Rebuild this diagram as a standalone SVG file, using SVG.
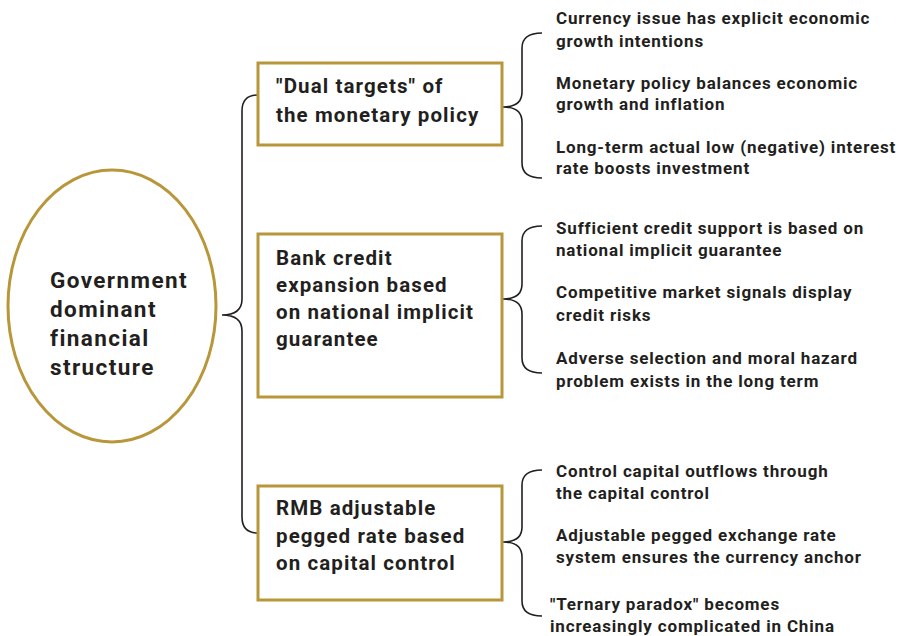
<svg xmlns="http://www.w3.org/2000/svg" width="900" height="636" viewBox="0 0 900 636">
<style>
.node{fill:#fff;stroke:#b8973a;stroke-width:3}
.brace{fill:none;stroke:#231f20;stroke-width:1.6}
text{font-family:Roboto,"Liberation Sans",sans-serif;fill:#231f20;font-weight:700}
.big{font-size:22.5px;letter-spacing:1.4px}
.mid{font-size:20.5px;letter-spacing:1.1px}
.sm{font-size:17px;letter-spacing:0.83px}
</style>
<rect width="900" height="636" fill="#fff"/>
<g id="connectors">
<path class="brace" d="M258,95 Q242,95 242,111 L242,299 Q242,315 222,315 Q242,315 242,331 L242,517 Q242,533 258,533"/>
<path class="brace" d="M542,33 Q522,33 522,48 L522,92 Q522,107 503,107 Q522,107 522,122 L522,163 Q522,178 542,178"/>
<path class="brace" d="M542,226 Q522,226 522,241 L522,284 Q522,299 503,299 Q522,299 522,314 L522,358 Q522,373 542,373"/>
<path class="brace" d="M542,470 Q522,470 522,485 L522,527 Q522,542 503,542 Q522,542 522,557 L522,601 Q522,616 542,616"/>
</g>
<g id="root">
<ellipse class="node" cx="112" cy="306" rx="104" ry="136"/>
<text class="big"><tspan x="50" y="288">Government</tspan><tspan x="50" y="317">dominant</tspan><tspan x="50" y="346">financial</tspan><tspan x="50" y="375">structure</tspan></text>
</g>
<g id="box1">
<rect class="node" x="258" y="63" width="244" height="82"/>
<text class="mid"><tspan x="276" y="93">"Dual targets" of</tspan><tspan x="276" y="122">the monetary policy</tspan></text>
</g>
<g id="box2">
<rect class="node" x="258" y="234" width="244" height="163"/>
<text class="mid"><tspan x="276" y="265">Bank credit</tspan><tspan x="276" y="292">expansion based</tspan><tspan x="276" y="319">on national implicit</tspan><tspan x="276" y="346">guarantee</tspan></text>
</g>
<g id="box3">
<rect class="node" x="258" y="486" width="244" height="114"/>
<text class="mid"><tspan x="276" y="515">RMB adjustable</tspan><tspan x="276" y="543">pegged rate based</tspan><tspan x="276" y="570">on capital control</tspan></text>
</g>
<g id="leaf1a"><text class="sm"><tspan x="556" y="24">Currency issue has explicit economic</tspan><tspan x="556" y="47">growth intentions</tspan></text></g>
<g id="leaf1b"><text class="sm"><tspan x="556" y="89">Monetary policy balances economic</tspan><tspan x="556" y="110">growth and inflation</tspan></text></g>
<g id="leaf1c"><text class="sm"><tspan x="556" y="153">Long-term actual low (negative) interest</tspan><tspan x="556" y="174">rate boosts investment</tspan></text></g>
<g id="leaf2a"><text class="sm"><tspan x="556" y="234">Sufficient credit support is based on</tspan><tspan x="556" y="256">national implicit guarantee</tspan></text></g>
<g id="leaf2b"><text class="sm"><tspan x="556" y="298">Competitive market signals display</tspan><tspan x="556" y="321">credit risks</tspan></text></g>
<g id="leaf2c"><text class="sm"><tspan x="556" y="364">Adverse selection and moral hazard</tspan><tspan x="556" y="387">problem exists in the long term</tspan></text></g>
<g id="leaf3a"><text class="sm"><tspan x="556" y="477">Control capital outflows through</tspan><tspan x="556" y="499">the capital control</tspan></text></g>
<g id="leaf3b"><text class="sm"><tspan x="556" y="541">Adjustable pegged exchange rate</tspan><tspan x="556" y="563">system ensures the currency anchor</tspan></text></g>
<g id="leaf3c"><text class="sm"><tspan x="550" y="610">"Ternary paradox" becomes</tspan><tspan x="550" y="632">increasingly complicated in China</tspan></text></g>
</svg>
